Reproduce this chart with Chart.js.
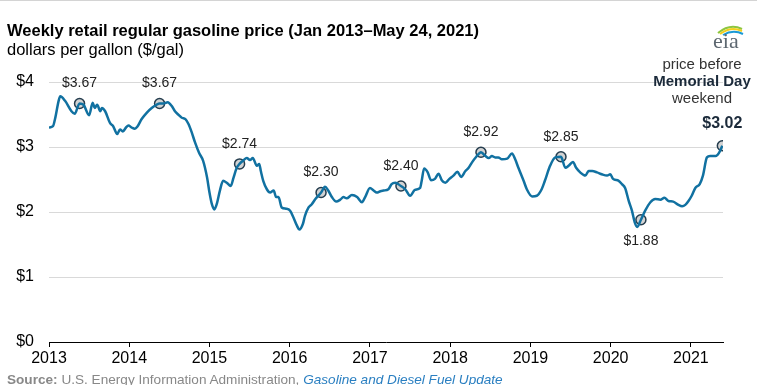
<!DOCTYPE html>
<html>
<head>
<meta charset="utf-8">
<script src="https://cdn.jsdelivr.net/npm/chart.js@4.4.1/dist/chart.umd.min.js"></script>
<style>
  html, body { margin: 0; padding: 0; background: #fff; }
  #wrap { position: relative; width: 757px; height: 385px; overflow: hidden; font-family: "Liberation Sans", Arial, sans-serif; border-top: 1px solid #d4d4d4; box-sizing: border-box; }
  #grafico { position: absolute; left: 0; top: -1px; }
  .titulo { position: absolute; left: 7px; top: 20px; font-size: 16.5px; font-weight: bold; color: #000; white-space: nowrap; }
  .unidade { position: absolute; left: 7px; top: 39px; font-size: 16.5px; color: #000; white-space: nowrap; }
  .nota { position: absolute; left: 642px; top: 54px; width: 120px; text-align: center; font-size: 15px; line-height: 17px; color: #333; }
  .nota b { color: #1b2a3a; }
  .fonte { position: absolute; left: 7px; top: 371px; font-size: 13.6px; color: #888; white-space: nowrap; }
  .fonte i { color: #2a7fc1; }
  #logo { position: absolute; left: 706px; top: 20px; }
</style>
</head>
<body>
<div id="wrap">
  <canvas id="grafico" width="757" height="385"></canvas>
  <div class="titulo">Weekly retail regular gasoline price (Jan 2013–May 24, 2021)</div>
  <div class="unidade">dollars per gallon ($/gal)</div>
  <div class="nota">price before<br><b>Memorial Day</b><br>weekend</div>
  <svg id="logo" width="44" height="30" viewBox="0 0 44 30">
    <path d="M12 12 Q24 2 36 8" fill="none" stroke="#8dc63f" stroke-width="2"/>
    <path d="M14 13 Q25 5 36 10" fill="none" stroke="#f2cf1d" stroke-width="2"/>
    <path d="M17 14 Q27 8 37 13" fill="none" stroke="#1a9ad6" stroke-width="2"/>
    <text x="7" y="27" font-family="Liberation Serif, DejaVu Serif, serif" font-size="22" fill="#5d6770">eia</text>
  </svg>
  <div class="fonte"><b>Source:</b> U.S. Energy Information Administration, <i>Gasoline and Diesel Fuel Update</i></div>
</div>

<script>
/* ======= Dados ======= */
// semana como ano decimal
const semanas = [
  2013.00, 2013.05, 2013.075, 2013.12, 2013.14, 2013.20, 2013.28, 2013.32, 2013.381, 2013.43,
  2013.50, 2013.545, 2013.57, 2013.60, 2013.64, 2013.66, 2013.70, 2013.76, 2013.80, 2013.85,
  2013.885, 2013.92, 2013.96, 2013.99, 2014.03, 2014.07, 2014.10, 2014.155, 2014.22, 2014.28,
  2014.34, 2014.378, 2014.425, 2014.48, 2014.53, 2014.57, 2014.61, 2014.655, 2014.70, 2014.74,
  2014.78, 2014.82, 2014.87, 2014.92, 2014.97, 2015.00, 2015.03, 2015.06, 2015.09, 2015.13,
  2015.17, 2015.215, 2015.265, 2015.30, 2015.34, 2015.375, 2015.42, 2015.465, 2015.505, 2015.54,
  2015.59, 2015.62, 2015.64, 2015.67, 2015.715, 2015.755, 2015.80, 2015.83, 2015.86, 2015.90,
  2015.955, 2016.005, 2016.045, 2016.09, 2016.12, 2016.165, 2016.19, 2016.235, 2016.275, 2016.32,
  2016.391, 2016.44, 2016.48, 2016.525, 2016.58, 2016.63, 2016.67, 2016.71, 2016.775, 2016.84,
  2016.90, 2016.94, 2017.00, 2017.045, 2017.085, 2017.13, 2017.17, 2017.23, 2017.27, 2017.315,
  2017.386, 2017.44, 2017.50, 2017.56, 2017.625, 2017.645, 2017.675, 2017.72, 2017.76, 2017.81,
  2017.855, 2017.895, 2017.94, 2017.99, 2018.04, 2018.09, 2018.135, 2018.19, 2018.23, 2018.27,
  2018.325, 2018.384, 2018.44, 2018.48, 2018.52, 2018.56, 2018.60, 2018.645, 2018.71, 2018.77,
  2018.81, 2018.85, 2018.915, 2018.955, 2019.02, 2019.08, 2019.14, 2019.18, 2019.245, 2019.31,
  2019.381, 2019.435, 2019.475, 2019.53, 2019.57, 2019.62, 2019.685, 2019.725, 2019.77, 2019.83,
  2019.89, 2019.955, 2019.995, 2020.03, 2020.10, 2020.14, 2020.18, 2020.225, 2020.265, 2020.30,
  2020.33, 2020.377, 2020.43, 2020.495, 2020.555, 2020.62, 2020.67, 2020.72, 2020.78, 2020.845,
  2020.89, 2020.93, 2020.97, 2021.01, 2021.055, 2021.11, 2021.15, 2021.20, 2021.24, 2021.31,
  2021.35, 2021.392
];

const precos = [
  3.30, 3.32, 3.43, 3.71, 3.78, 3.71, 3.55, 3.51, 3.67, 3.65,
  3.49, 3.68, 3.60, 3.65, 3.55, 3.60, 3.55, 3.37, 3.32, 3.20,
  3.27, 3.24, 3.30, 3.33, 3.30, 3.28, 3.31, 3.43, 3.53, 3.60,
  3.65, 3.67, 3.67, 3.69, 3.63, 3.55, 3.50, 3.45, 3.43, 3.35,
  3.22, 3.07, 2.91, 2.79, 2.53, 2.30, 2.12, 2.04, 2.12, 2.33,
  2.48, 2.45, 2.40, 2.53, 2.68, 2.74, 2.79, 2.83, 2.80, 2.83,
  2.71, 2.74, 2.63, 2.48, 2.35, 2.30, 2.33, 2.23, 2.23, 2.07,
  2.05, 2.02, 1.92, 1.79, 1.73, 1.82, 1.94, 2.07, 2.12, 2.20,
  2.30, 2.39, 2.33, 2.23, 2.16, 2.19, 2.23, 2.21, 2.26, 2.23,
  2.15, 2.23, 2.37, 2.33, 2.30, 2.32, 2.33, 2.35, 2.43, 2.45,
  2.40, 2.35, 2.25, 2.34, 2.37, 2.48, 2.67, 2.61, 2.49, 2.51,
  2.59, 2.49, 2.45, 2.51, 2.56, 2.62, 2.54, 2.63, 2.68, 2.76,
  2.85, 2.92, 2.86, 2.83, 2.86, 2.84, 2.84, 2.81, 2.82, 2.90,
  2.81, 2.68, 2.48, 2.35, 2.24, 2.25, 2.35, 2.48, 2.71, 2.84,
  2.85, 2.68, 2.71, 2.77, 2.68, 2.61, 2.56, 2.63, 2.63, 2.61,
  2.58, 2.56, 2.58, 2.51, 2.48, 2.43, 2.37, 2.17, 2.02, 1.84,
  1.77, 1.88, 2.02, 2.15, 2.20, 2.19, 2.22, 2.17, 2.16, 2.11,
  2.09, 2.11, 2.17, 2.25, 2.37, 2.43, 2.56, 2.84, 2.86, 2.86,
  2.91, 3.02
];

// semana antes do Memorial Day de cada ano
const datasMemorial = ['2013-05-20', '2014-05-19', '2015-05-18', '2016-05-23', '2017-05-22',
                       '2018-05-21', '2019-05-20', '2020-05-18', '2021-05-24'];
const precosMemorial = [3.67, 3.67, 2.74, 2.30, 2.40, 2.92, 2.85, 1.88, 3.02];

const anos = [2013, 2014, 2015, 2016, 2017, 2018, 2019, 2020, 2021];
const ticksY = [0, 1, 2, 3, 4];

function paraAno(dataStr) {
  const d = new Date(dataStr + 'T00:00:00Z');
  const ini = Date.UTC(d.getUTCFullYear(), 0, 1);
  const fim = Date.UTC(d.getUTCFullYear() + 1, 0, 1);
  return d.getUTCFullYear() + (d.getTime() - ini) / (fim - ini);
}

/* ======= Rótulos dos pontos ======= */
const rotulosPlugin = {
  id: 'rotulos',
  afterDatasetsDraw(chart) {
    const ctx = chart.ctx;
    const meta = chart.getDatasetMeta(1);
    const minimo = Math.min(...precosMemorial);
    ctx.save();
    ctx.textAlign = 'center';
    ctx.textBaseline = 'middle';
    meta.data.forEach((pt, i) => {
      const v = precosMemorial[i];
      const txt = '$' + v.toFixed(2);
      if (i === precosMemorial.length - 1) {
        ctx.font = 'bold 16px "Liberation Sans", Arial, sans-serif';
        ctx.fillStyle = '#1b2a3a';
        ctx.fillText(txt, pt.x, pt.y - 22);
      } else {
        ctx.font = '14px "Liberation Sans", Arial, sans-serif';
        ctx.fillStyle = '#222';
        ctx.fillText(txt, pt.x, v === minimo ? pt.y + 21 : pt.y - 20);
      }
    });
    ctx.restore();
  }
};

/* ======= Gráfico ======= */
function criarGrafico() {
  Chart.defaults.font.family = '"Liberation Sans", Arial, sans-serif';
  Chart.defaults.font.size = 16;
  Chart.defaults.color = '#000';

  const serie = semanas.map((x, i) => ({ x: x, y: precos[i] }));
  const marcas = datasMemorial.map((d, i) => ({ x: paraAno(d), y: precosMemorial[i] }));

  new Chart(document.getElementById('grafico'), {
    type: 'line',
    data: {
      datasets: [
        {
          data: serie,
          borderColor: '#1171a1',
          borderWidth: 2.5,
          pointRadius: 0,
          cubicInterpolationMode: 'monotone',
          fill: false
        },
        {
          data: marcas,
          showLine: false,
          pointRadius: 5,
          pointBackgroundColor: '#d3d3d3',
          pointBorderColor: '#253d4e',
          pointBorderWidth: 1.5
        }
      ]
    },
    options: {
      responsive: false,
      animation: false,
      devicePixelRatio: 1,
      layout: { padding: { top: 82, right: 34, left: 0, bottom: 0 } },
      plugins: { legend: { display: false }, tooltip: { enabled: false } },
      scales: {
        x: {
          type: 'linear',
          min: anos[0],
          max: 2021.40,
          afterFit: s => { s.height = 43; },
          afterBuildTicks: s => { s.ticks = anos.map(v => ({ value: v })); },
          ticks: { callback: v => String(v), maxRotation: 0, autoSkip: false, padding: 2, color: '#000' },
          grid: { drawOnChartArea: false, drawTicks: true, tickLength: 5, color: '#000' },
          border: { display: true, color: '#000', width: 1 }
        },
        y: {
          min: 0,
          max: 4,
          afterFit: s => { s.width = 49; },
          afterBuildTicks: s => { s.ticks = ticksY.map(v => ({ value: v })); },
          ticks: { callback: v => '$' + v, padding: 15, color: '#000' },
          grid: { color: '#d9d9d9', drawTicks: false },
          border: { display: false }
        }
      }
    },
    plugins: [rotulosPlugin]
  });
}

document.addEventListener('DOMContentLoaded', criarGrafico);
</script>
</body>
</html>
